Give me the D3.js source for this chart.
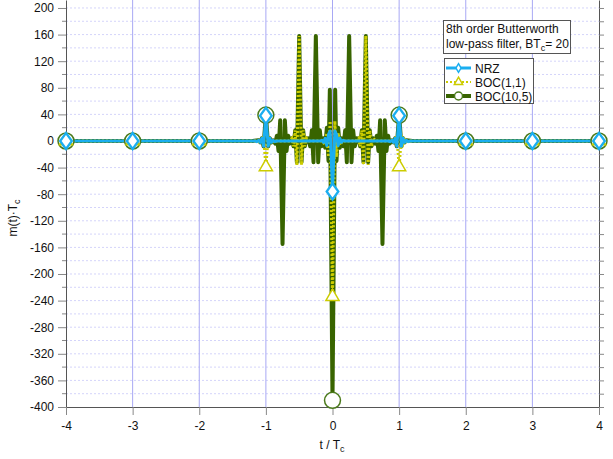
<!DOCTYPE html>
<html>
<head>
<meta charset="utf-8">
<script src="https://cdn.jsdelivr.net/npm/d3@7"></script>
<style>
  body { margin: 0; background: #fff; }
  svg { display: block; font-family: "Liberation Sans", Arial, sans-serif; }
</style>
</head>
<body>
<svg id="chart" width="613" height="459"></svg>
<script>
// tick values
const xTicks = [-4, -3, -2, -1, 0, 1, 2, 3, 4];
const yTicks = [-400, -360, -320, -280, -240, -200, -160, -120, -80, -40, 0, 40, 80, 120, 160, 200];
const yMinor = [-380, -340, -300, -260, -220, -180, -140, -100, -60, -20, 20, 60, 100, 140, 180];

// marker positions (t / Tc) and values
const markerT = [-4, -3, -2, -1, 0, 1, 2, 3, 4];
const nrzMarks = [0, 0, 0, 38, -76, 38, 0, 0, 0];
const boc11Marks = [0, 0, 0, -39, -234, -39, 0, 0, 0];
const boc105Marks = [0, 0, 0, 39, -390, 39, 0, 0, 0];

// curves, [t, m(t)*Tc]
const nrzPts = [
  [-4, 0], [-1.2, 0], [-1.16, 0], [-1.135, -1], [-1.11, 1], [-1.085, -2], [-1.06, 4], [-1.035, -8],
  [-1, 38], [-0.965, -8], [-0.94, 4], [-0.915, -2], [-0.89, 1], [-0.865, -1], [-0.84, 0],
  [-0.18, 0], [-0.16, 1], [-0.135, -2], [-0.11, 4], [-0.085, -7], [-0.06, 10], [-0.035, 15],
  [0, -76], [0.035, 15], [0.06, 10], [0.085, -7], [0.11, 4], [0.135, -2], [0.16, 1], [0.18, 0],
  [0.84, 0], [0.865, -1], [0.89, 1], [0.915, -2], [0.94, 4], [0.965, -8],
  [1, 38], [1.035, -8], [1.06, 4], [1.085, -2], [1.11, 1], [1.135, -1], [1.16, 0], [1.2, 0], [4, 0]
];

const boc11Pts = [
  [-4, 0], [-1.15, 0], [-1.11, -1], [-1.085, 2], [-1.06, -4], [-1.035, 8],
  [-1, -39], [-0.965, 8], [-0.94, -4], [-0.915, 2], [-0.89, -1], [-0.85, 0],
  [-0.65, 0], [-0.61, 4], [-0.585, -8], [-0.56, 16], [-0.535, -36],
  [-0.5, 158], [-0.465, -36], [-0.44, 16], [-0.415, -8], [-0.39, 4], [-0.35, 0],
  [-0.15, 0], [-0.11, -6], [-0.085, 12], [-0.06, -24], [-0.035, 30],
  [0, -234], [0.035, 30], [0.06, -24], [0.085, 12], [0.11, -6], [0.15, 0],
  [0.35, 0], [0.39, 4], [0.415, -8], [0.44, 16], [0.465, -36],
  [0.5, 158], [0.535, -36], [0.56, 16], [0.585, -8], [0.61, 4], [0.65, 0],
  [0.85, 0], [0.89, -1], [0.915, 2], [0.94, -4], [0.965, 8],
  [1, -39], [1.035, 8], [1.06, -4], [1.085, 2], [1.11, -1], [1.15, 0], [4, 0]
];

const boc105Pts = [
  [-4, 0], [-1.2, 0], [-1.11, 1], [-1.085, -2], [-1.06, 4], [-1.035, -8],
  [-1, 39], [-0.965, -8], [-0.94, 4], [-0.915, -2], [-0.89, 1],
  [-0.875, 0], [-0.86, -4], [-0.835, 8], [-0.81, -15], [-0.785, 31],
  [-0.75, -155], [-0.715, 31], [-0.69, -15], [-0.665, 8], [-0.64, -4],
  [-0.625, 0], [-0.61, 4], [-0.585, -8], [-0.56, 16], [-0.535, -32],
  [-0.5, 158], [-0.465, -32], [-0.44, 16], [-0.415, -8], [-0.39, 4],
  [-0.375, 0], [-0.36, 4], [-0.335, -8], [-0.31, 16], [-0.285, -32],
  [-0.25, 158], [-0.215, -32], [-0.19, 16], [-0.165, -8], [-0.14, 4],
  [-0.125, 0], [-0.11, -10], [-0.085, 20], [-0.06, -30], [-0.04, 77],
  [0, -390], [0.04, 77], [0.06, -30], [0.085, 20], [0.11, -10],
  [0.125, 0], [0.14, 4], [0.165, -8], [0.19, 16], [0.215, -32],
  [0.25, 158], [0.285, -32], [0.31, 16], [0.335, -8], [0.36, 4],
  [0.375, 0], [0.39, 4], [0.415, -8], [0.44, 16], [0.465, -32],
  [0.5, 158], [0.535, -32], [0.56, 16], [0.585, -8], [0.61, 4],
  [0.625, 0], [0.64, -4], [0.665, 8], [0.69, -15], [0.715, 31],
  [0.75, -155], [0.785, 31], [0.81, -15], [0.835, 8], [0.86, -4],
  [0.875, 0], [0.89, 1], [0.915, -2], [0.94, 4], [0.965, -8],
  [1, 39], [1.035, -8], [1.06, 4], [1.085, -2], [1.11, 1], [1.2, 0], [4, 0]
];

const colNrz = "#1aaef0", colBoc11 = "#cccc00", colBoc105 = "#386400", colCircle = "#4b7a1c";

const svg = d3.select("#chart");
const pLeft = 66, pRight = 599, pTop = 0, pBottom = 407;

const x = d3.scaleLinear().domain([-4, 4]).range([pLeft, pRight]);
const y = d3.scaleLinear().domain([-400, 212]).range([pBottom, pTop]);

// grid
const grid = svg.append("g");
grid.selectAll(".hg").data(yTicks.concat(yMinor).filter(v => v > -400)).enter().append("line")
  .attr("x1", pLeft).attr("x2", pRight).attr("y1", d => y(d)).attr("y2", d => y(d))
  .attr("stroke", "#d4d4fa").attr("stroke-width", 1).attr("stroke-dasharray", "2,2");
grid.selectAll(".vg").data(xTicks.filter(v => v > -4 && v < 4)).enter().append("line")
  .attr("x1", d => x(d)).attr("x2", d => x(d)).attr("y1", pTop).attr("y2", pBottom)
  .attr("stroke", "#a8a8f4").attr("stroke-width", 1);

// axes (plain hyphen for negatives, like the original)
const fmt = d => String(d);
const yAxis = d3.axisLeft(y).tickValues(yTicks).tickSize(8).tickPadding(4).tickSizeOuter(0).tickFormat(fmt);
const gy = svg.append("g").attr("transform", `translate(${pLeft},0)`).call(yAxis);
gy.selectAll(".minor").data(yMinor).enter().append("line").attr("class", "minor")
  .attr("x1", -4).attr("x2", 0).attr("y1", d => y(d)).attr("y2", d => y(d)).attr("stroke", "#888");

const yAxisR = d3.axisRight(y).tickValues(yTicks.concat(yMinor)).tickSize(5).tickSizeOuter(0).tickFormat("");
const gyr = svg.append("g").attr("transform", `translate(${pRight},0)`).call(yAxisR);

const xAxis = d3.axisBottom(x).tickValues(xTicks).tickSize(8).tickPadding(6).tickSizeOuter(0).tickFormat(fmt);
const gx = svg.append("g").attr("transform", `translate(0,${pBottom})`).call(xAxis);

[gx, gy, gyr].forEach(g => {
  g.selectAll("text").attr("font-size", 12).attr("fill", "#111").attr("font-family", "Liberation Sans, Arial, sans-serif");
  g.selectAll(".tick line").attr("stroke", "#888");
  g.select(".domain").attr("stroke", "#555");
});

// curves
const line = d3.line().x(d => x(d[0])).y(d => y(d[1]));
svg.append("path").datum(boc105Pts).attr("d", line)
  .attr("fill", "none").attr("stroke", colBoc105).attr("stroke-width", 4).attr("stroke-linejoin", "round");
svg.append("path").datum(boc11Pts).attr("d", line)
  .attr("fill", "none").attr("stroke", colBoc11).attr("stroke-width", 3).attr("stroke-dasharray", "2,2");
svg.append("path").datum(nrzPts).attr("d", line)
  .attr("fill", "none").attr("stroke", colNrz).attr("stroke-width", 3).attr("stroke-linejoin", "round");

// markers
const circleSym = d3.symbol().type(d3.symbolCircle).size(200);
const triSym = d3.symbol().type(d3.symbolTriangle).size(75);
const diaSym = d3.symbol().type(d3.symbolDiamond).size(75);

svg.append("g").selectAll("path").data(markerT).enter().append("path")
  .attr("d", circleSym).attr("transform", (d, i) => `translate(${x(d)},${y(boc105Marks[i])})`)
  .attr("fill", "#fff").attr("stroke", colCircle).attr("stroke-width", 1.5);
svg.append("g").selectAll("path").data(markerT).enter().append("path")
  .attr("d", triSym).attr("transform", (d, i) => `translate(${x(d)},${y(boc11Marks[i])})`)
  .attr("fill", "#fff").attr("stroke", colBoc11).attr("stroke-width", 1.5);
svg.append("g").selectAll("path").data(markerT).enter().append("path")
  .attr("d", diaSym).attr("transform", (d, i) => `translate(${x(d)},${y(nrzMarks[i])}) scale(1.25,1)`)
  .attr("fill", "#fff").attr("stroke", colNrz).attr("stroke-width", 2);

// axis titles
const xl = svg.append("text").attr("x", 332).attr("y", 449).attr("text-anchor", "middle")
  .attr("font-size", 12).attr("fill", "#111");
xl.append("tspan").text("t / T");
xl.append("tspan").text("c").attr("font-size", 9).attr("dy", 3);

const yl = svg.append("text").attr("transform", "translate(17,218) rotate(-90)").attr("text-anchor", "middle")
  .attr("font-size", 12).attr("fill", "#111");
yl.append("tspan").text("m(t)\u00b7T");
yl.append("tspan").text("c").attr("font-size", 9).attr("dy", 3);

// annotation box
svg.append("rect").attr("x", 443.5).attr("y", 20.5).attr("width", 127).attr("height", 33)
  .attr("fill", "#fff").attr("stroke", "#555");
svg.append("text").attr("x", 446).attr("y", 33).attr("font-size", 12).attr("fill", "#111")
  .text("8th order Butterworth");
const t2 = svg.append("text").attr("x", 446).attr("y", 48).attr("font-size", 12).attr("fill", "#111");
t2.append("tspan").text("low-pass filter, BT");
t2.append("tspan").text("c").attr("font-size", 9).attr("dy", 3);
t2.append("tspan").text("= 20").attr("dy", -3);

// legend
const legNames = ["NRZ", "BOC(1,1)", "BOC(10,5)"];
svg.append("rect").attr("x", 444.5).attr("y", 58.5).attr("width", 89).attr("height", 45)
  .attr("fill", "#fff").attr("stroke", "#555");
const leg = svg.append("g").selectAll("g").data(legNames).enter().append("g")
  .attr("transform", (d, i) => `translate(446,${68 + i * 14})`);
leg.append("line").attr("x1", 0).attr("x2", 25)
  .attr("stroke", (d, i) => [colNrz, colBoc11, colBoc105][i])
  .attr("stroke-width", (d, i) => [3, 2, 4][i])
  .attr("stroke-dasharray", (d, i) => i === 1 ? "2,2" : null);
leg.append("path").attr("transform", "translate(12.5,0)")
  .attr("d", (d, i) => d3.symbol().type([d3.symbolDiamond, d3.symbolTriangle, d3.symbolCircle][i]).size([22, 30, 50][i])())
  .attr("fill", "#fff").attr("stroke", (d, i) => [colNrz, colBoc11, colCircle][i]).attr("stroke-width", 1.5);
leg.append("text").attr("x", 29).attr("y", 4.5).attr("font-size", 12).attr("fill", "#111").text(d => d);
</script>
</body>
</html>
